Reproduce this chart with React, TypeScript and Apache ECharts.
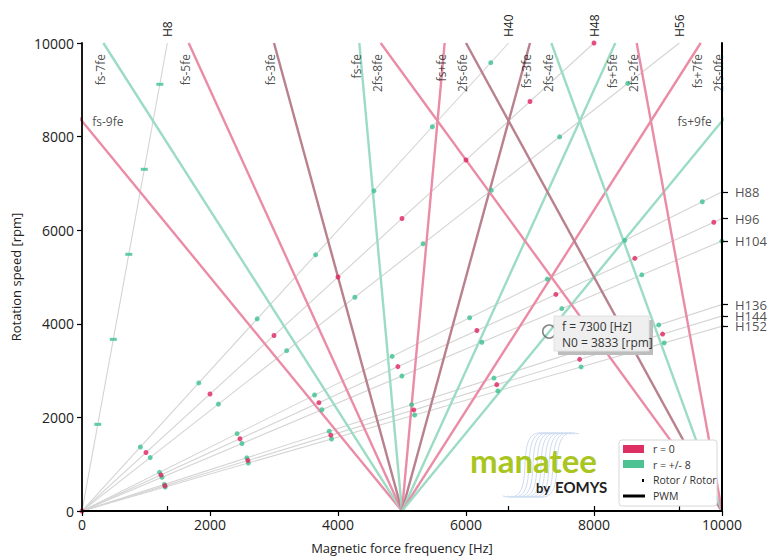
import React, { useEffect, useRef } from "react";
import * as echarts from "echarts";

// ---------- data ----------
const FS = 5000; // PWM switching frequency [Hz]
const POLE_PAIRS = 4;
const N_MAX = 10000;
const F_MAX = 10000;

const xTicks = [0, 2000, 4000, 6000, 8000, 10000];
const yTicks = [0, 2000, 4000, 6000, 8000, 10000];

// rotor harmonic rays (f = H * N / 60)
const rotorHarmonics = [8, 40, 48, 56, 88, 96, 104, 136, 144, 152];
const topHarmonics = [8, 40, 48, 56];
const rightHarmonics = [88, 96, 104, 136, 144, 152];

// PWM lines: f = a*fs + k*fe
const pwmFsMult = [1, 1, 1, 1, 1, 1, 1, 1, 1, 1, 2, 2, 2, 2, 2];
const pwmFeMult = [-9, -7, -5, -3, -1, 1, 3, 5, 7, 9, -8, -6, -4, -2, 0];
const pwmLabels = ["fs-9fe", "fs-7fe", "fs-5fe", "fs-3fe", "fs-fe", "fs+fe", "fs+3fe", "fs+5fe", "fs+7fe", "fs+9fe", "2fs-8fe", "2fs-6fe", "2fs-4fe", "2fs-2fe", "2fs-0fe"];
const pwmGroup = ["r0", "r8", "r0", "both", "r8", "r0", "both", "r8", "r0", "r8", "r0", "both", "r8", "r0", "both"];

// resonance dots [f Hz, N rpm]
const dotsR0: number[][] = [
  [0, 0],
  [1000, 1250], [2000, 2500], [3000, 3750], [4000, 5000], [5000, 6250], [6000, 7500], [7000, 8750], [8000, 10000],
  [1234, 771], [2468, 1543], [3702, 2314], [4936, 3085], [6170, 3856], [7404, 4628], [8638, 5399], [9872, 6170],
  [1296, 540], [2592, 1080], [3888, 1620], [5184, 2160], [6480, 2700], [7776, 3240], [9072, 3780],
];
const dotsR8: number[][] = [
  [912, 1368], [1825, 2737], [2737, 4105], [3650, 5474], [4562, 6842], [5475, 8211], [6387, 9579],
  [1066, 1142], [2132, 2284], [3198, 3426], [4264, 4568], [5330, 5710], [6396, 6852], [7462, 7994], [8528, 9136],
  [1211, 826], [2423, 1652], [3634, 2478], [4846, 3304], [6057, 4130], [7269, 4956], [8480, 5782], [9692, 6608],
  [1250, 721], [2499, 1442], [3749, 2163], [4998, 2884], [6248, 3605], [7497, 4326], [8747, 5047], [9997, 5768],
  [1287, 568], [2575, 1136], [3862, 1704], [5150, 2272], [6437, 2840], [7725, 3408], [9012, 3976],
  [1300, 513], [2599, 1026], [3899, 1539], [5198, 2052], [6498, 2565], [7798, 3078], [9097, 3591],
];
const dashesH8: number[][] = [[247, 1852], [489, 3668], [731, 5485], [973, 7301], [1216, 9118]];

const cursorPoint = [7300, 3833];
const tooltipLines = ["f = 7300 [Hz]", "N0 = 3833 [rpm]"];

const legendNames = ["r = 0", "r = +/- 8", "Rotor / Rotor", "PWM"];

// ---------- styles ----------
const FONT = "'Open Sans', 'Noto Sans', sans-serif";
const PINK_LINE = "#ea8ca6";
const GREEN_LINE = "#9cdcc5";
const MAUVE_LINE = "#b9808d";
const PINK_DOT = "#e0245e";
const GREEN_DOT = "#3cc08e";
const groupColor: Record<string, string> = { r0: PINK_LINE, r8: GREEN_LINE, both: MAUVE_LINE };

export default function App() {
  const ref = useRef<HTMLDivElement>(null);

  useEffect(() => {
    if (!ref.current) return;
    const chart = echarts.init(ref.current, undefined, { renderer: "svg" });

    const fe = (n: number) => (POLE_PAIRS * n) / 60;

    const rotorSeries = rotorHarmonics.map((h) => ({
      type: "line",
      name: "H" + h,
      data: [[0, 0], [(h * N_MAX) / 60, N_MAX]],
      showSymbol: false,
      symbol: "none",
      silent: true,
      z: 1,
      lineStyle: { color: "#d4d4d4", width: 1.1 },
    }));

    const pwmSeries = pwmLabels.map((lab, i) => ({
      type: "line",
      name: lab,
      data: [
        [pwmFsMult[i] * FS + pwmFeMult[i] * fe(0), 0],
        [pwmFsMult[i] * FS + pwmFeMult[i] * fe(N_MAX), N_MAX],
      ],
      showSymbol: false,
      symbol: "none",
      silent: true,
      z: 2,
      // the vertical 2fs line lies under the right frame
      lineStyle: { color: groupColor[pwmGroup[i]], width: pwmFeMult[i] === 0 ? 1 : 2.4 },
    }));

    // label anchors for PWM lines
    const labelTopN = 9765;
    const labelData: any[] = [];
    pwmLabels.forEach((lab, i) => {
      const fTop = pwmFsMult[i] * FS + pwmFeMult[i] * fe(N_MAX);
      if (fTop >= 0 && fTop <= F_MAX) {
        labelData.push({
          value: [fTop - 47, labelTopN],
          label: { rotate: 90, align: "right", verticalAlign: "middle" },
          name: lab,
        });
      } else {
        const nEdge = fTop < 0
          ? (pwmFsMult[i] * FS * 60) / (-pwmFeMult[i] * POLE_PAIRS)
          : ((pwmFsMult[i] * FS - F_MAX) * 60) / (-pwmFeMult[i] * POLE_PAIRS);
        labelData.push({
          value: fTop < 0 ? [160, nEdge - 20] : [F_MAX - 160, nEdge - 20],
          label: { rotate: 0, align: fTop < 0 ? "left" : "right", verticalAlign: "middle" },
          name: lab,
        });
      }
    });

    const topTickValues = topHarmonics.map((h) => (h * N_MAX) / 60);
    const rightTickValues = rightHarmonics.map((h) => (60 * F_MAX) / h);
    const rightLabelData = rightHarmonics.map((h, i) => ({ value: [F_MAX, rightTickValues[i]], name: "H" + h }));

    const axisLineStyle = { color: "#000", width: 1.8 };

    const lx = 619, ly = 440;

    const logoWaves: any[] = [];
    for (let i = 0; i < 9; i++) {
      const x0 = 503 + i * 4;
      logoWaves.push({
        type: "bezierCurve",
        silent: true,
        z: 50,
        shape: { x1: x0, y1: 496, x2: x0 + 44, y2: 434, cpx1: x0 + 40, cpy1: 508, cpx2: x0 + 4, cpy2: 422 },
        style: { stroke: "#cddcf0", lineWidth: 1, fill: null },
      });
    }

    chart.setOption({
      animation: false,
      backgroundColor: "#fff",
      textStyle: { fontFamily: FONT },
      grid: { left: 82, right: 46, top: 43, bottom: 48, containLabel: false },
      xAxis: [
        {
          type: "value",
          min: xTicks[0],
          max: xTicks[xTicks.length - 1],
          interval: xTicks[1] - xTicks[0],
          name: "Magnetic force frequency [Hz]",
          nameLocation: "middle",
          nameGap: 30,
          nameTextStyle: { fontSize: 13, color: "#222", fontFamily: FONT },
          z: 10,
          axisLine: { show: true, lineStyle: axisLineStyle },
          axisTick: { show: true, length: 5, lineStyle: { color: "#000", width: 1.2 } },
          axisLabel: { fontSize: 14, color: "#222", margin: 6, fontFamily: FONT, formatter: (v: number) => String(v) },
          splitLine: { show: false },
        },
        {
          type: "value",
          position: "top",
          min: 0,
          max: F_MAX,
          z: 10,
          axisLine: { show: true, lineStyle: axisLineStyle },
          axisTick: { show: true, length: 5, customValues: topTickValues, lineStyle: { color: "#000", width: 1.2 } },
          axisLabel: {
            show: true,
            rotate: 90,
            fontSize: 12,
            color: "#222",
            margin: 6,
            fontFamily: FONT,
            hideOverlap: false,
            customValues: topTickValues,
            formatter: (v: number) => {
              const i = topTickValues.findIndex((t) => Math.abs(t - v) < 1);
              return i >= 0 ? "H" + topHarmonics[i] : "";
            },
          },
          splitLine: { show: false },
        },
      ],
      yAxis: [
        {
          type: "value",
          min: yTicks[0],
          max: yTicks[yTicks.length - 1],
          interval: yTicks[1] - yTicks[0],
          name: "Rotation speed [rpm]",
          nameLocation: "middle",
          nameGap: 60,
          nameTextStyle: { fontSize: 13, color: "#222", fontFamily: FONT },
          z: 10,
          axisLine: { show: true, lineStyle: axisLineStyle },
          axisTick: { show: true, length: 5, lineStyle: { color: "#000", width: 1.2 } },
          axisLabel: { fontSize: 14, color: "#222", margin: 8, fontFamily: FONT, formatter: (v: number) => String(v) },
          splitLine: { show: false },
        },
        {
          type: "value",
          position: "right",
          min: 0,
          max: N_MAX,
          z: 10,
          axisLine: { show: true, onZero: false, lineStyle: { color: "#000", width: 2 } },
          axisTick: { show: true, length: 6, customValues: rightTickValues, lineStyle: { color: "#000", width: 1.2 } },
          axisLabel: { show: false },
          splitLine: { show: false },
        },
      ],
      series: [
        ...rotorSeries,
        ...pwmSeries,
        {
          type: "scatter",
          name: "PWM labels",
          data: labelData,
          symbolSize: 0,
          silent: true,
          z: 5,
          label: {
            show: true,
            position: "inside",
            formatter: (p: any) => p.name,
            fontSize: 12,
            color: "#222",
            fontFamily: FONT,
          },
        },
        {
          type: "scatter",
          name: "Right harmonic labels",
          data: rightLabelData,
          symbolSize: 0,
          silent: true,
          clip: false,
          z: 5,
          label: {
            show: true,
            position: "right",
            distance: 13,
            formatter: (p: any) => p.name,
            fontSize: 13,
            color: "#222",
            fontFamily: FONT,
          },
          labelLayout: { hideOverlap: false },
        },
        {
          type: "scatter",
          name: "Rotor / Rotor H8",
          data: dashesH8,
          symbol: "rect",
          symbolSize: [7, 3],
          z: 6,
          itemStyle: { color: GREEN_DOT },
        },
        {
          type: "scatter",
          name: "r = +/- 8",
          data: dotsR8,
          symbolSize: 5,
          z: 6,
          itemStyle: { color: GREEN_DOT },
        },
        {
          type: "scatter",
          name: "r = 0",
          data: dotsR0,
          symbolSize: 5,
          z: 7,
          clip: false,
          itemStyle: { color: PINK_DOT },
        },
        {
          type: "scatter",
          name: "cursor",
          data: [cursorPoint],
          symbol: "circle",
          symbolSize: 13,
          z: 8,
          itemStyle: { color: "rgba(255,255,255,0)", borderColor: "#666", borderWidth: 1.5 },
        },
      ],
      graphic: [
        ...logoWaves,
        {
          type: "text",
          z: 60,
          silent: true,
          x: 470,
          y: 460,
          style: { text: "manatee", fontSize: 33, fontWeight: "bold", fill: "#a9c51f", fontFamily: "Lato, sans-serif", textVerticalAlign: "middle" },
        },
        {
          type: "text",
          z: 60,
          silent: true,
          x: 536,
          y: 488,
          style: { text: "by", fontSize: 13, fontWeight: "bold", fill: "#222", fontFamily: "Lato, sans-serif", textVerticalAlign: "middle" },
        },
        {
          type: "text",
          z: 60,
          silent: true,
          x: 555,
          y: 487,
          style: { text: "EOMYS", fontSize: 15, fontWeight: "bold", fill: "#222", fontFamily: "Lato, sans-serif", textVerticalAlign: "middle" },
        },
        // tooltip box
        { type: "rect", z: 70, silent: true, shape: { x: 558, y: 320, width: 95, height: 35 }, style: { fill: "#bdbdbd" } },
        { type: "rect", z: 71, silent: true, shape: { x: 554, y: 316, width: 95, height: 35 }, style: { fill: "#efefef", stroke: "#e0e0e0", lineWidth: 1 } },
        { type: "text", z: 72, silent: true, x: 562, y: 326, style: { text: tooltipLines[0], fontSize: 12, fill: "#333", fontFamily: FONT, textVerticalAlign: "middle" } },
        { type: "text", z: 72, silent: true, x: 562, y: 342, style: { text: tooltipLines[1], fontSize: 12, fill: "#333", fontFamily: FONT, textVerticalAlign: "middle" } },
        // legend
        { type: "rect", z: 80, silent: true, shape: { x: lx, y: ly, width: 98, height: 66, r: 3 }, style: { fill: "#fff", stroke: "#d8d8d8", lineWidth: 1 } },
        { type: "rect", z: 81, silent: true, shape: { x: lx + 4, y: ly + 5, width: 21, height: 8 }, style: { fill: "#de2f62" } },
        { type: "rect", z: 81, silent: true, shape: { x: lx + 4, y: ly + 20, width: 21, height: 8 }, style: { fill: "#4dc293" } },
        { type: "rect", z: 81, silent: true, shape: { x: lx + 23, y: ly + 39, width: 2, height: 3 }, style: { fill: "#000" } },
        { type: "line", z: 81, silent: true, shape: { x1: lx + 4, y1: ly + 56, x2: lx + 26, y2: ly + 56 }, style: { stroke: "#000", lineWidth: 3 } },
        ...legendNames.map((t, i) => ({
          type: "text",
          z: 82,
          silent: true,
          x: lx + 34,
          y: ly + 9 + i * 15.5,
          style: { text: t, fontSize: 10.5, fill: "#333", fontFamily: FONT, textVerticalAlign: "middle" },
        })),
      ],
    });

    return () => chart.dispose();
  }, []);

  return <div ref={ref} style={{ position: "fixed", left: 0, top: 0, width: 768, height: 559 }} />;
}
